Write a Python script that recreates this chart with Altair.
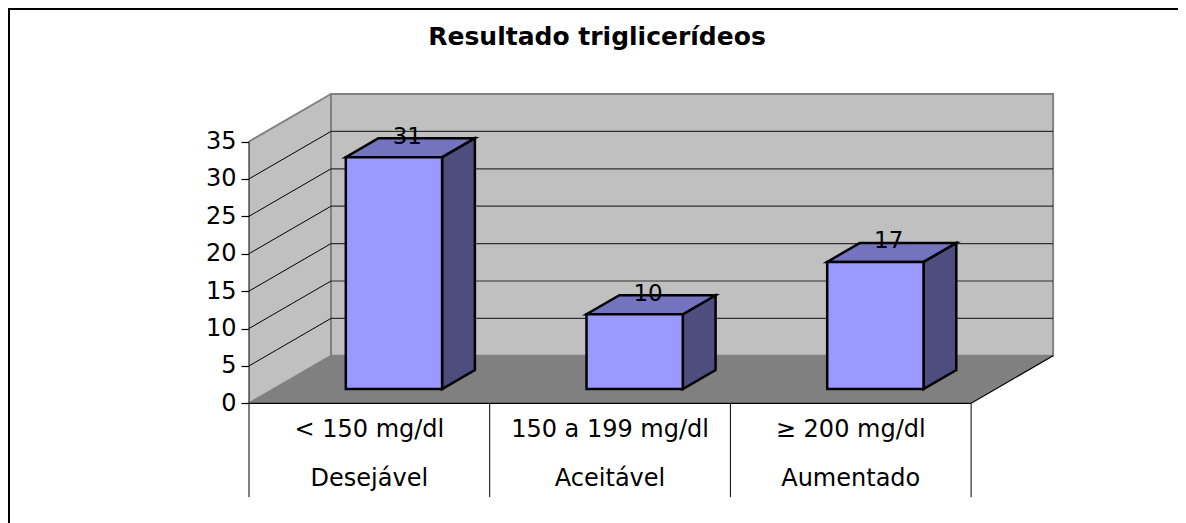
import altair as alt
import pandas as pd

categories = ["< 150 mg/dl", "150 a 199 mg/dl", "≥ 200 mg/dl"]
groups = ["Desejável", "Aceitável", "Aumentado"]
values = [31, 10, 17]
ticks = [0, 5, 10, 15, 20, 25, 30, 35]
title_text = "Resultado triglicerídeos"

# plot frame, scale and oblique-projection settings
W, H = 1170, 515
X0, Y0 = 241, 395.3       # where category 0 / value 0 fall inside the frame
CAT_PX, VAL_PX = 240.7, 7.48
DX = 82 / CAT_PX          # depth of the box in category units
DY = 47.5 / VAL_PX        # depth of the box in value units
YMAX = 35
FONT = "DejaVu Sans"
SIZE = 24

x_scale = alt.Scale(domain=[-X0 / CAT_PX, (W - X0) / CAT_PX], range=[0, W], nice=False, zero=False)
y_scale = alt.Scale(domain=[(Y0 - H) / VAL_PX, Y0 / VAL_PX], range=[H, 0], nice=False, zero=False)
y_axis = alt.Axis(
    values=ticks, offset=-X0, grid=False, domain=False, title=None,
    tickColor="#000000", tickSize=8, tickWidth=1.2, labelPadding=5,
    labelFont=FONT, labelFontSize=SIZE, labelColor="#000000")
X = alt.X("x:Q", scale=x_scale, axis=None)
Y = alt.Y("y:Q", scale=y_scale, axis=y_axis)

N = len(values)


def vband(rows, color, stroke=None, sw=1):
    """Parallelogram with vertical ends: rows hold x, y, y2, g."""
    kw = {"stroke": stroke, "strokeWidth": sw} if stroke else {}
    return alt.Chart(pd.DataFrame(rows)).mark_area(color=color, opacity=1, **kw).encode(
        x=X, y=Y, y2="y2:Q", detail="g:N")


def hband(rows, color, stroke=None, sw=1):
    """Parallelogram with horizontal ends: rows hold y, x, x2, g."""
    kw = {"stroke": stroke, "strokeWidth": sw} if stroke else {}
    return alt.Chart(pd.DataFrame(rows)).mark_area(color=color, opacity=1, orient="horizontal", **kw).encode(
        y=Y, x=X, x2="x2:Q", detail="g:N")


def segs(rows, color, sw=1):
    return alt.Chart(pd.DataFrame(rows)).mark_line(color=color, strokeWidth=sw).encode(
        x=X, y=Y, detail="g:N")


# walls and floor
left_wall = vband([
    {"x": 0, "y": YMAX, "y2": 0, "g": 0},
    {"x": DX, "y": YMAX + DY, "y2": DY, "g": 0}], "#C0C0C0")
back_wall = alt.Chart(pd.DataFrame([{"x": DX, "x2": N + DX, "y": DY, "y2": YMAX + DY}])).mark_rect(
    color="#C0C0C0", stroke="#808080", strokeWidth=2).encode(x=X, x2="x2:Q", y=Y, y2="y2:Q")
floor = hband([
    {"y": 0, "x": 0, "x2": N, "g": 0},
    {"y": DY, "x": DX, "x2": N + DX, "g": 0}], "#808080")

# gridlines on the two walls
grid_rows_left, grid_rows_back = [], []
for t in ticks[1:-1]:
    grid_rows_left += [{"x": 0, "y": t, "g": t}, {"x": DX, "y": t + DY, "g": t}]
    grid_rows_back += [{"x": DX, "y": t + DY, "g": t}, {"x": N + DX, "y": t + DY, "g": t}]
grid_left = segs(grid_rows_left, "#000000", 1)
grid_back = segs(grid_rows_back, "#303030", 1.2)

# wall edges
edges = segs([
    {"x": 0, "y": YMAX, "g": 1}, {"x": DX, "y": YMAX + DY, "g": 1},
    {"x": 0, "y": 0, "g": 2}, {"x": DX, "y": DY, "g": 2}], "#808080", 2)
floor_edges = segs([
    {"x": 0, "y": 0, "g": 3}, {"x": N, "y": 0, "g": 3},
    {"x": N, "y": 0, "g": 4}, {"x": N + DX, "y": DY, "g": 4}], "#000000", 1.2)

# category table below the chart
ROW1, ROW2, TABLE_END = -3.55, -10.1, -12.55
table_rows = []
for i in range(N + 1):
    table_rows += [{"x": i, "y": YMAX if i == 0 else 0, "g": i}, {"x": i, "y": TABLE_END, "g": i}]
table = segs(table_rows, "#000000", 1)
cat_df = pd.DataFrame({"x": [i + 0.5 for i in range(N)], "y": [ROW1] * N, "t": categories})
grp_df = pd.DataFrame({"x": [i + 0.5 for i in range(N)], "y": [ROW2] * N, "t": groups})
cat_text = alt.Chart(cat_df).mark_text(font=FONT, fontSize=SIZE, color="#000000").encode(x=X, y=Y, text="t:N")
grp_text = alt.Chart(grp_df).mark_text(font=FONT, fontSize=SIZE, color="#000000").encode(x=X, y=Y, text="t:N")

# bars
B0, B1, D0, D1 = 0.3, 0.7, 0.3, 0.7
side_rows, top_rows, front_rows, label_rows = [], [], [], []
for i, v in enumerate(values):
    xl, xr = i + B0 + D0 * DX, i + B1 + D0 * DX
    yb, yt = D0 * DY, v + D0 * DY
    ddx, ddy = (D1 - D0) * DX, (D1 - D0) * DY
    front_rows.append({"x": xl, "x2": xr, "y": yb, "y2": yt})
    side_rows += [{"x": xr, "y": yt, "y2": yb, "g": i}, {"x": xr + ddx, "y": yt + ddy, "y2": yb + ddy, "g": i}]
    top_rows += [{"y": yt, "x": xl, "x2": xr, "g": i}, {"y": yt + ddy, "x": xl + ddx, "x2": xr + ddx, "g": i}]
    label_rows.append({"x": i + 0.5 + 0.5 * DX, "y": v + 0.5 * DY, "t": str(v)})

sides = vband(side_rows, "#4D4D80", "#000000", 2.5)
tops = hband(top_rows, "#7373BF", "#000000", 2.5)
fronts = alt.Chart(pd.DataFrame(front_rows)).mark_bar(
    color="#9999FF", stroke="#000000", strokeWidth=2.5).encode(x=X, x2="x2:Q", y=Y, y2="y2:Q")
labels = alt.Chart(pd.DataFrame(label_rows)).mark_text(
    font=FONT, fontSize=23, color="#000000", dx=-3, dy=-11).encode(x=X, y=Y, text="t:N")

# chart title and the picture's top and left border
title_df = pd.DataFrame({"x": [(597 - 8 - X0) / CAT_PX], "y": [(Y0 - 29) / VAL_PX], "t": [title_text]})
title_mark = alt.Chart(title_df).mark_text(
    font=FONT, fontSize=25, fontWeight="bold", color="#000000").encode(x=X, y=Y, text="t:N")
x_lo, x_hi = x_scale.domain[0], x_scale.domain[1]
y_lo, y_hi = y_scale.domain[0], y_scale.domain[1]
border = segs([
    {"x": x_lo, "y": y_hi, "g": 0}, {"x": x_hi, "y": y_hi, "g": 0},
    {"x": x_lo, "y": y_hi, "g": 1}, {"x": x_lo, "y": y_lo, "g": 1}], "#000000", 4)

chart = alt.layer(
    left_wall, back_wall, floor, grid_left, grid_back, edges, floor_edges,
    table, cat_text, grp_text, sides, tops, fronts, labels, title_mark, border,
).properties(
    width=W, height=H, padding=0, autosize=alt.AutoSizeParams(type="none"), background="#FFFFFF",
).configure_view(stroke=None)

chart.save("out.html", embed_options={"renderer": "svg", "actions": False})
